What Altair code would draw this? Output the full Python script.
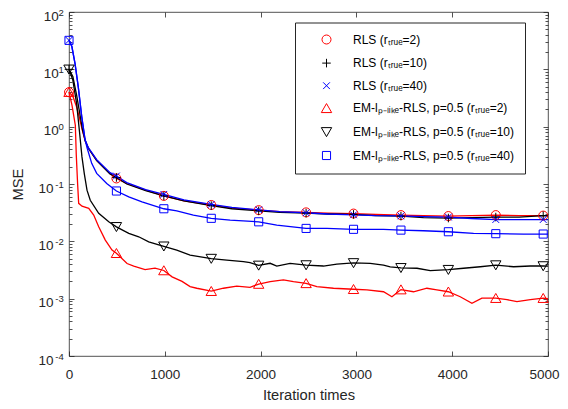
import altair as alt
import pandas as pd

FONT = "Liberation Sans"
AX = "#262626"

series_names = [
    "RLS (rₜᵣᵤₑ=2)",
    "RLS (rₜᵣᵤₑ=10)",
    "RLS (rₜᵣᵤₑ=40)",
    "EM-lₚ₋ₗᵢₖₑ-RLS, p=0.5 (rₜᵣᵤₑ=2)",
    "EM-lₚ₋ₗᵢₖₑ-RLS, p=0.5 (rₜᵣᵤₑ=10)",
    "EM-lₚ₋ₗᵢₖₑ-RLS, p=0.5 (rₜᵣᵤₑ=40)",
]
series_colors = ["#ff0000", "#000000", "#0000ff", "#ff0000", "#000000", "#0000ff"]
series_shapes = [
    "circle",
    "M-0.95,0L0.95,0M0,-0.95L0,0.95",
    "M-0.75,-0.75L0.75,0.75M0.75,-0.75L-0.75,0.75",
    "M0,-1.05L-1.15,0.95L1.15,0.95Z",
    "M0,1.05L-1.15,-0.95L1.15,-0.95Z",
    "M-0.9,-0.9L0.9,-0.9L0.9,0.9L-0.9,0.9Z",
]

rls2_it = [0, 40, 80, 110, 140, 170, 202, 289, 428, 495, 603, 800, 990, 1200, 1485, 1700, 1980, 2200,
           2475, 2700, 2970, 3200, 3465, 3700, 3960, 4200, 4455, 4700, 4950, 5000]
rls2_v = [4.0, 3.4, 2.2, 1.4, 0.85, 0.56, 0.42, 0.26, 0.152, 0.125, 0.102, 0.078, 0.062, 0.051, 0.043,
          0.038, 0.035, 0.033, 0.032, 0.031, 0.0305, 0.0295, 0.0287, 0.028, 0.0276, 0.028, 0.0287,
          0.028, 0.0281, 0.028]

rls10_it = [0, 40, 80, 110, 140, 170, 202, 289, 428, 495, 603, 800, 990, 1200, 1485, 1700, 1980, 2200,
            2475, 2700, 2970, 3200, 3465, 3700, 3960, 4200, 4455, 4700, 4950, 5000]
rls10_v = [10.0, 7.5, 3.5, 1.8, 0.9, 0.56, 0.42, 0.255, 0.15, 0.13, 0.1, 0.077, 0.062, 0.051, 0.042,
           0.037, 0.034, 0.032, 0.031, 0.030, 0.0295, 0.028, 0.0275, 0.026, 0.0255, 0.026, 0.0265,
           0.0265, 0.028, 0.028]

rls40_it = [0, 30, 63, 97, 133, 167, 202, 289, 428, 495, 603, 800, 990, 1200, 1485, 1700, 1980, 2200,
            2475, 2700, 2970, 3200, 3465, 3700, 3960, 4200, 4455, 4700, 4950, 5000]
rls40_v = [32.0, 25.0, 12.6, 4.9, 1.5, 0.6, 0.43, 0.265, 0.158, 0.138, 0.106, 0.08, 0.066, 0.053, 0.044,
           0.039, 0.0355, 0.033, 0.0315, 0.030, 0.029, 0.028, 0.0278, 0.027, 0.0265, 0.025, 0.024,
           0.024, 0.024, 0.024]

em2_it = [0, 31, 66, 76, 90, 101, 136, 206, 258, 310, 379, 449, 495, 606, 676, 794, 898, 990, 1076,
          1180, 1264, 1334, 1485, 1612, 1751, 1890, 1980, 2100, 2238, 2343, 2475, 2587, 2761, 2970,
          3110, 3283, 3371, 3465, 3596, 3736, 3840, 3960, 4084, 4206, 4310, 4455, 4572, 4676, 4815,
          4950, 5000]
em2_v = [4.0, 2.37, 1.06, 0.32, 0.1, 0.046, 0.041, 0.0376, 0.0287, 0.018, 0.0105, 0.00705, 0.0062,
         0.0041, 0.0037, 0.0032, 0.0034, 0.0031, 0.0024, 0.002, 0.00162, 0.00152, 0.00135, 0.00152,
         0.00166, 0.00158, 0.0018, 0.00198, 0.00212, 0.00198, 0.00185, 0.00162, 0.00152, 0.00146,
         0.00142, 0.00132, 0.00108, 0.00144, 0.00132, 0.00152, 0.00142, 0.00132, 0.00108, 0.00083,
         0.00102, 0.00102, 0.00096, 0.00089, 0.00096, 0.00102, 0.001]

em10_it = [0, 40, 80, 110, 135, 160, 188, 222, 310, 415, 495, 624, 728, 832, 990, 1125, 1264, 1485,
           1647, 1821, 1890, 1980, 2100, 2169, 2308, 2475, 2656, 2796, 2970, 3144, 3283, 3353, 3465,
           3632, 3771, 3960, 4118, 4293, 4455, 4641, 4815, 4950, 5000]
em10_v = [10.0, 6.5, 2.5, 0.8, 0.3, 0.15, 0.078, 0.052, 0.0308, 0.0219, 0.0179, 0.0138, 0.012, 0.0098,
          0.0082, 0.00705, 0.00577, 0.005, 0.00472, 0.00442, 0.00424, 0.0038, 0.00414, 0.00371,
          0.00414, 0.00386, 0.00371, 0.004, 0.0042, 0.00414, 0.00386, 0.0036, 0.00345, 0.00339,
          0.00308, 0.0032, 0.00339, 0.0036, 0.00385, 0.0036, 0.00371, 0.00371, 0.0037]

em40_it = [0, 30, 63, 97, 133, 167, 190, 237, 289, 394, 495, 624, 762, 990, 1125, 1298, 1485, 1682,
           1980, 2169, 2475, 2692, 2970, 3283, 3465, 3701, 3960, 4223, 4455, 4745, 4950, 5000]
em40_v = [32.0, 25.0, 12.6, 4.9, 1.5, 0.6, 0.42, 0.229, 0.153, 0.102, 0.0755, 0.0598, 0.049, 0.037,
          0.0341, 0.0287, 0.0252, 0.0235, 0.0219, 0.0192, 0.0168, 0.0168, 0.0162, 0.0162, 0.0157,
          0.0153, 0.0147, 0.0138, 0.0136, 0.0134, 0.0134, 0.0134]

marker_its = [0, 495, 990, 1485, 1980, 2475, 2970, 3465, 3960, 4455, 4950]

x_ticks = [0, 1000, 2000, 3000, 4000, 5000]
x_labels_main = [0, 1000, 2000, 3000, 4000]
x_labels_last = [5000]
decades = [1e-4, 1e-3, 1e-2, 1e-1, 1.0, 10.0, 100.0]
decades_pos = [1.0, 10.0, 100.0]
decades_neg = [1e-4, 1e-3, 1e-2, 1e-1]
minor_ticks = [k * 10.0 ** e for e in range(-4, 2) for k in range(2, 10)]

all_it = [rls2_it, rls10_it, rls40_it, em2_it, em10_it, em40_it]
all_v = [rls2_v, rls10_v, rls40_v, em2_v, em10_v, em40_v]

rows = []
for name, its, vs in zip(series_names, all_it, all_v):
    for a, b in zip(its, vs):
        rows.append({"series": name, "it": a, "mse": b})
df = pd.DataFrame(rows)

W, H = 479, 344

xscale = alt.Scale(domain=[0, 5000], nice=False, zero=False)
yscale = alt.Scale(type="log", domain=[1e-4, 100], nice=False)


def tick_axis(orient, offset, values, size):
    return alt.Axis(orient=orient, offset=offset, values=values, labels=False, domain=False,
                    ticks=True, tickSize=size, tickColor=AX, tickWidth=0.8, grid=False, title=None)


label_common = dict(ticks=False, tickSize=0, domain=False, grid=False, labelColor=AX,
                    labelFont=FONT, labelFlush=False, labelOverlap=False)

x_lab = alt.Axis(orient="bottom", values=x_labels_main, format="d", labelPadding=11,
                 labelFontSize=13.5, title="Iteration times", titleFontSize=14.7,
                 titleFontWeight="normal", titleColor=AX, titleFont=FONT, titleY=31,
                 titleBaseline="top", **label_common)
x_last = alt.Axis(orient="bottom", values=x_labels_last, format="d", labelPadding=11,
                  labelFontSize=13.5, labelOffset=-4, title=None, **label_common)
x_tb = tick_axis("top", -H, x_ticks, 5)
x_tt = tick_axis("bottom", -H, x_ticks, 5)

y_base_pos = alt.Axis(orient="left", values=decades_pos, labelExpr="'10'", labelPadding=10.7,
                      labelAlign="right", labelBaseline="middle", labelOffset=4,
                      labelFontSize=13.5, title="MSE", titleX=-51, titleY=H / 2, titleAngle=270,
                      titleAlign="center", titleBaseline="middle", titleFontSize=14.7,
                      titleFontWeight="normal", titleColor=AX, titleFont=FONT, **label_common)
y_base_neg = alt.Axis(orient="left", values=decades_neg, labelExpr="'10'", labelPadding=16,
                      labelAlign="right", labelBaseline="middle", labelOffset=4,
                      labelFontSize=13.5, title=None, **label_common)
y_exp = alt.Axis(orient="left", values=decades, labelExpr="'' + round(log(datum.value) / LN10)",
                 labelPadding=5.7, labelAlign="right", labelBaseline="middle", labelOffset=0,
                 labelFontSize=9.5, title=None, **label_common)
y_lmaj = tick_axis("right", -W, decades, 5)
y_lmin = tick_axis("right", -W, minor_ticks, 3)
y_rmaj = tick_axis("left", -W, decades, 5)
y_rmin = tick_axis("left", -W, minor_ticks, 3)

axes_plan = [
    (x_lab, y_base_pos),
    (x_tb, y_base_neg),
    (x_tt, y_exp),
    (x_last, y_lmaj),
    (None, y_lmin),
    (None, y_rmaj),
]

layers = []
for i, (xa, ya) in enumerate(axes_plan):
    layers.append(
        alt.Chart(df)
        .transform_filter(alt.FieldEqualPredicate(field="series", equal=series_names[i]))
        .mark_line(color=series_colors[i], strokeWidth=1.3)
        .encode(
            x=alt.X("it:Q", scale=xscale, axis=xa),
            y=alt.Y("mse:Q", scale=yscale, axis=ya),
        )
    )

leg = alt.Legend(orient="none", legendX=226, legendY=10.5, title=None, padding=11, rowPadding=9.6,
                 symbolOffset=14.5, labelOffset=20.5, labelFont=FONT, labelFontSize=12,
                 labelColor="black", symbolSize=81, symbolStrokeWidth=1, strokeColor=AX,
                 fillColor="white", labelLimit=400, labelExpr="datum.label + '   '")

markers = (
    alt.Chart(df)
    .transform_filter(alt.FieldOneOfPredicate(field="it", oneOf=marker_its))
    .mark_point(filled=False, size=81, strokeWidth=1, opacity=1)
    .encode(
        x=alt.X("it:Q", scale=xscale, axis=None),
        y=alt.Y("mse:Q", scale=yscale, axis=y_rmin),
        color=alt.Color("series:N", scale=alt.Scale(domain=series_names, range=series_colors),
                        legend=leg),
        shape=alt.Shape("series:N", scale=alt.Scale(domain=series_names, range=series_shapes),
                        legend=leg),
    )
)

chart = (
    alt.layer(*layers, markers)
    .resolve_axis(x="independent", y="independent")
    .properties(width=W, height=H, autosize=alt.AutoSizeParams(type="none"),
                padding={"left": 61, "top": 4, "right": 12, "bottom": 45})
    .configure(font=FONT, background="white")
    .configure_view(stroke=AX, strokeWidth=0.8)
)

chart.save("out.html", embed_options={"renderer": "svg", "actions": False})
